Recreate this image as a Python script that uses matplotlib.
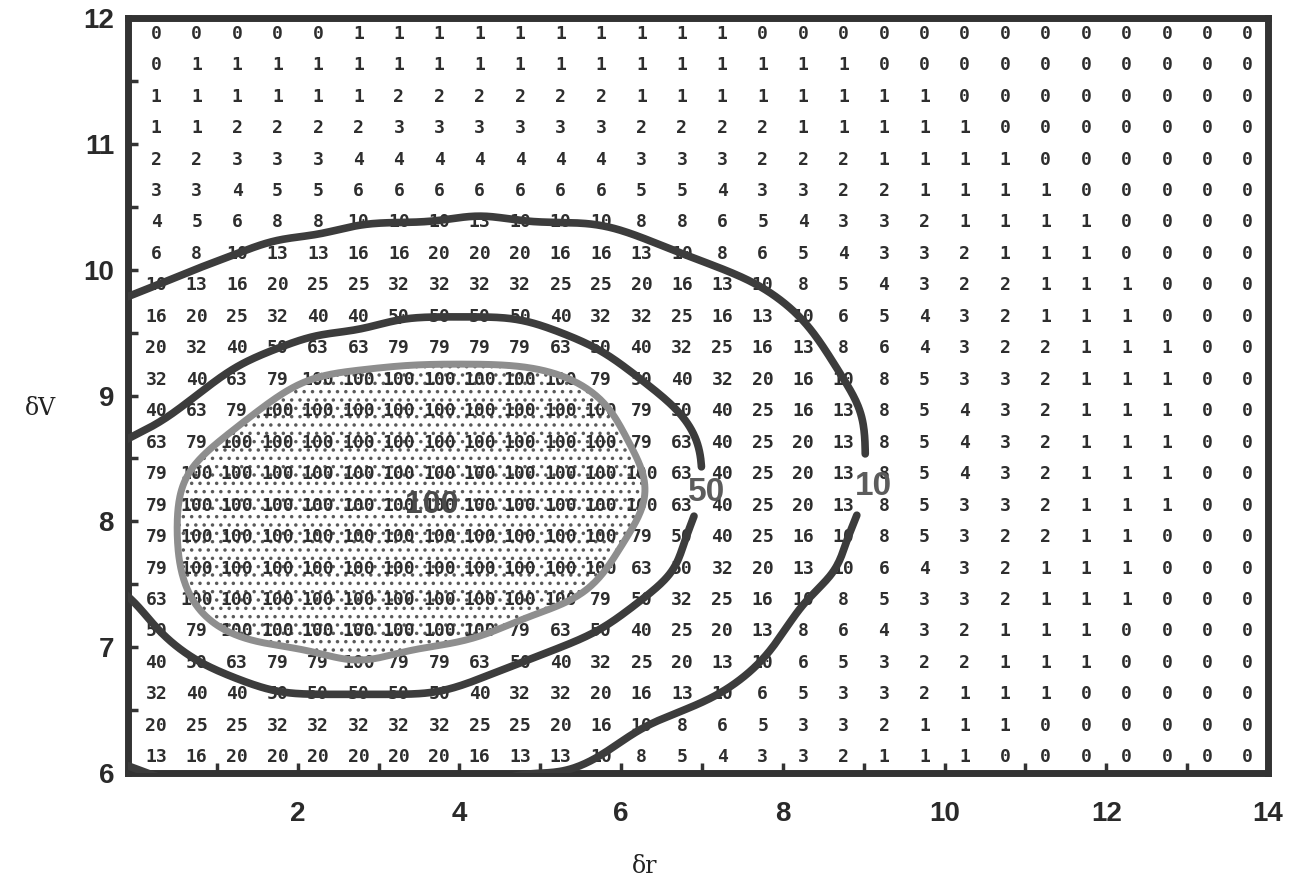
import numpy as np
import matplotlib
matplotlib.use("Agg")
import matplotlib.pyplot as plt
from matplotlib.ticker import FixedLocator

# Grid of tabulated values: rows run from the top (dV = 11.875) down to dV = 6.125,
# columns from dr = 0.25 to 13.75 in steps of 0.5
dr_centers = np.arange(28) * 0.5 + 0.25
dv_centers = 11.875 - np.arange(24) * 0.25

row_01 = [0, 0, 0, 0, 0, 1, 1, 1, 1, 1, 1, 1, 1, 1, 1, 0, 0, 0, 0, 0, 0, 0, 0, 0, 0, 0, 0, 0]
row_02 = [0, 1, 1, 1, 1, 1, 1, 1, 1, 1, 1, 1, 1, 1, 1, 1, 1, 1, 0, 0, 0, 0, 0, 0, 0, 0, 0, 0]
row_03 = [1, 1, 1, 1, 1, 1, 2, 2, 2, 2, 2, 2, 1, 1, 1, 1, 1, 1, 1, 1, 0, 0, 0, 0, 0, 0, 0, 0]
row_04 = [1, 1, 2, 2, 2, 2, 3, 3, 3, 3, 3, 3, 2, 2, 2, 2, 1, 1, 1, 1, 1, 0, 0, 0, 0, 0, 0, 0]
row_05 = [2, 2, 3, 3, 3, 4, 4, 4, 4, 4, 4, 4, 3, 3, 3, 2, 2, 2, 1, 1, 1, 1, 0, 0, 0, 0, 0, 0]
row_06 = [3, 3, 4, 5, 5, 6, 6, 6, 6, 6, 6, 6, 5, 5, 4, 3, 3, 2, 2, 1, 1, 1, 1, 0, 0, 0, 0, 0]
row_07 = [4, 5, 6, 8, 8, 10, 10, 10, 13, 10, 10, 10, 8, 8, 6, 5, 4, 3, 3, 2, 1, 1, 1, 1, 0, 0, 0, 0]
row_08 = [6, 8, 10, 13, 13, 16, 16, 20, 20, 20, 16, 16, 13, 10, 8, 6, 5, 4, 3, 3, 2, 1, 1, 1, 0, 0, 0, 0]
row_09 = [10, 13, 16, 20, 25, 25, 32, 32, 32, 32, 25, 25, 20, 16, 13, 10, 8, 5, 4, 3, 2, 2, 1, 1, 1, 0, 0, 0]
row_10 = [16, 20, 25, 32, 40, 40, 50, 50, 50, 50, 40, 32, 32, 25, 16, 13, 10, 6, 5, 4, 3, 2, 1, 1, 1, 0, 0, 0]
row_11 = [20, 32, 40, 50, 63, 63, 79, 79, 79, 79, 63, 50, 40, 32, 25, 16, 13, 8, 6, 4, 3, 2, 2, 1, 1, 1, 0, 0]
row_12 = [32, 40, 63, 79, 100, 100, 100, 100, 100, 100, 100, 79, 50, 40, 32, 20, 16, 10, 8, 5, 3, 3, 2, 1, 1, 1, 0, 0]
row_13 = [40, 63, 79, 100, 100, 100, 100, 100, 100, 100, 100, 100, 79, 50, 40, 25, 16, 13, 8, 5, 4, 3, 2, 1, 1, 1, 0, 0]
row_14 = [63, 79, 100, 100, 100, 100, 100, 100, 100, 100, 100, 100, 79, 63, 40, 25, 20, 13, 8, 5, 4, 3, 2, 1, 1, 1, 0, 0]
row_15 = [79, 100, 100, 100, 100, 100, 100, 100, 100, 100, 100, 100, 100, 63, 40, 25, 20, 13, 8, 5, 4, 3, 2, 1, 1, 1, 0, 0]
row_16 = [79, 100, 100, 100, 100, 100, 100, 100, 100, 100, 100, 100, 100, 63, 40, 25, 20, 13, 8, 5, 3, 3, 2, 1, 1, 1, 0, 0]
row_17 = [79, 100, 100, 100, 100, 100, 100, 100, 100, 100, 100, 100, 79, 50, 40, 25, 16, 10, 8, 5, 3, 2, 2, 1, 1, 0, 0, 0]
row_18 = [79, 100, 100, 100, 100, 100, 100, 100, 100, 100, 100, 100, 63, 50, 32, 20, 13, 10, 6, 4, 3, 2, 1, 1, 1, 0, 0, 0]
row_19 = [63, 100, 100, 100, 100, 100, 100, 100, 100, 100, 100, 79, 50, 32, 25, 16, 10, 8, 5, 3, 3, 2, 1, 1, 1, 0, 0, 0]
row_20 = [50, 79, 100, 100, 100, 100, 100, 100, 100, 79, 63, 50, 40, 25, 20, 13, 8, 6, 4, 3, 2, 1, 1, 1, 0, 0, 0, 0]
row_21 = [40, 50, 63, 79, 79, 100, 79, 79, 63, 50, 40, 32, 25, 20, 13, 10, 6, 5, 3, 2, 2, 1, 1, 1, 0, 0, 0, 0]
row_22 = [32, 40, 40, 50, 50, 50, 50, 50, 40, 32, 32, 20, 16, 13, 10, 6, 5, 3, 3, 2, 1, 1, 1, 0, 0, 0, 0, 0]
row_23 = [20, 25, 25, 32, 32, 32, 32, 32, 25, 25, 20, 16, 10, 8, 6, 5, 3, 3, 2, 1, 1, 1, 0, 0, 0, 0, 0, 0]
row_24 = [13, 16, 20, 20, 20, 20, 20, 20, 16, 13, 13, 10, 8, 5, 4, 3, 3, 2, 1, 1, 1, 0, 0, 0, 0, 0, 0, 0]

contour_levels = [10, 50, 100]
x_ticks = [2, 4, 6, 8, 10, 12, 14]
y_ticks = [6, 7, 8, 9, 10, 11, 12]

grid = np.array([row_01, row_02, row_03, row_04, row_05, row_06, row_07, row_08,
                 row_09, row_10, row_11, row_12, row_13, row_14, row_15, row_16,
                 row_17, row_18, row_19, row_20, row_21, row_22, row_23, row_24])

plt.rcParams["font.family"] = ["Liberation Sans", "DejaVu Sans"]
plt.rcParams["font.weight"] = "bold"
plt.rcParams["hatch.linewidth"] = 1.3

fig = plt.figure(figsize=(12.9, 8.88), dpi=100)
ax = fig.add_axes([128 / 1290, 1 - 773 / 888, 1140 / 1290, 755 / 888])
XLIM, YLIM = (-0.1, 14.0), (6.0, 12.0)
ax.set_xlim(*XLIM)
ax.set_ylim(*YLIM)

# pixels per data unit, used to smooth contour lines isotropically on screen
SX = 1140 / (XLIM[1] - XLIM[0])
SY = 755 / (YLIM[1] - YLIM[0])

# tabulated numbers
for i, yv in enumerate(dv_centers):
    for j, xv in enumerate(dr_centers):
        ax.text(xv, yv, str(grid[i, j]), ha="center", va="center", fontsize=13,
                family=["DejaVu Sans Mono"], weight="bold", color="#2e2e2e", zorder=2)

# contour field: log of the values, padded by two cells of linear extrapolation
logv = np.log10(np.maximum(grid, 0.5))
pad = logv.copy()
xp, yp = dr_centers.copy(), dv_centers.copy()
for _ in range(2):
    pad = np.column_stack([2 * pad[:, 0] - pad[:, 1], pad, 2 * pad[:, -1] - pad[:, -2]])
    pad = np.vstack([2 * pad[0] - pad[1], pad, 2 * pad[-1] - pad[-2]])
    xp = np.concatenate([[xp[0] - 0.5], xp, [xp[-1] + 0.5]])
    yp = np.concatenate([[yp[0] + 0.25], yp, [yp[-1] - 0.25]])

# the core is bounded halfway (in log) between 100 and the next lower tabulated step
core_edge = np.sqrt(contour_levels[2] * grid[grid < contour_levels[2]].max())
line_levels = np.log10([contour_levels[0], contour_levels[1], core_edge]) - 1e-6

raw = ax.contour(xp, yp, pad, levels=line_levels, linewidths=0)
segs_by_level = [list(s) for s in raw.allsegs]
raw.remove()


def smooth(seg, sigma_px, step_px=2.0):
    P = np.column_stack([seg[:, 0] * SX, seg[:, 1] * SY])
    closed = len(P) > 3 and np.hypot(*(P[0] - P[-1])) < 1e-6
    if closed:
        P = np.vstack([P[:-1], P[:1]])
    d = np.concatenate([[0.0], np.cumsum(np.hypot(*np.diff(P, axis=0).T))])
    if d[-1] < 1:
        return None
    n = max(int(d[-1] / step_px), 8)
    s = np.linspace(0, d[-1], n + 1)
    Q = np.column_stack([np.interp(s, d, P[:, 0]), np.interp(s, d, P[:, 1])])
    sig = sigma_px / (d[-1] / n)
    half = int(3 * sig) + 1
    if closed:
        Q = Q[:-1]
        idx = np.arange(-half, len(Q) + half) % len(Q)
        ext = Q[idx]
    else:
        half = min(half, len(Q) - 1)
        head = 2 * Q[0] - Q[1:half + 1][::-1]
        tail = 2 * Q[-1] - Q[-half - 1:-1][::-1]
        ext = np.vstack([head, Q, tail])
    k = np.exp(-0.5 * (np.arange(-half, half + 1) / sig) ** 2)
    k /= k.sum()
    R = np.column_stack([np.convolve(ext[:, 0], k, mode="valid"),
                         np.convolve(ext[:, 1], k, mode="valid")])
    if closed:
        R = np.vstack([R, R[:1]])
    return R[:, 0] / SX, R[:, 1] / SY


def cut_gap(x, y, cx, cy, r_px):
    x, y = x.copy(), y.copy()
    m = np.hypot((x - cx) * SX, (y - cy) * SY) < r_px
    x[m] = np.nan
    y[m] = np.nan
    return x, y


# label positions of the two open contours
label_pos = {contour_levels[0]: (9.12, 8.28), contour_levels[1]: (7.06, 8.23)}
gap_px = {contour_levels[0]: 32, contour_levels[1]: 26}

for lev_idx in (0, 1):
    lev = contour_levels[lev_idx]
    cx, cy = label_pos[lev]
    for seg in segs_by_level[lev_idx]:
        sm = smooth(seg, 22)
        if sm is None:
            continue
        x, y = cut_gap(*sm, cx, cy, gap_px[lev])
        ax.plot(x, y, color="#3c3c3c", lw=5.5, solid_capstyle="round",
                solid_joinstyle="round", zorder=3)
    ax.text(cx, cy, f"{lev}", ha="center", va="center", fontsize=24,
            weight="bold", color="#5c5c5c", zorder=5)

for seg in segs_by_level[2]:
    sm = smooth(seg, 30)
    if sm is None:
        continue
    ax.fill(sm[0], sm[1], facecolor="none", edgecolor="#5a5a5a", linewidth=0,
            hatch="..", zorder=1)
    ax.plot(sm[0], sm[1], color="#8e8e8e", lw=5.0, solid_joinstyle="round", zorder=3)

ax.text(3.66, 8.13, f"{contour_levels[2]}", ha="center", va="center",
        fontsize=23, weight="bold", color="#4a4a4a", zorder=5)

# axes frame and ticks
for s in ax.spines.values():
    s.set_linewidth(5)
    s.set_color("#333333")

ax.xaxis.set_major_locator(FixedLocator(x_ticks))
ax.xaxis.set_minor_locator(FixedLocator(range(1, 14)))
ax.yaxis.set_major_locator(FixedLocator(y_ticks))
ax.yaxis.set_minor_locator(FixedLocator(np.arange(6.5, 12, 1.0)))
ax.tick_params(which="both", direction="in", length=7, width=2.5,
               color="#333333", top=False, right=False)
ax.tick_params(axis="x", which="major", pad=20, labelsize=20, labelcolor="#2a2a2a")
ax.tick_params(axis="y", which="major", pad=10, labelsize=20, labelcolor="#2a2a2a")

ax.set_xlabel("δr", family="DejaVu Serif", fontsize=17, weight="normal", color="#222222")
ax.set_ylabel("δV", family="DejaVu Serif", fontsize=17, weight="normal", color="#222222",
              rotation=0, ha="center", va="center")
ax.xaxis.set_label_coords(0.4535, -0.109)
ax.yaxis.set_label_coords(-0.077, 0.483)

fig.savefig("out.png", dpi=100)
